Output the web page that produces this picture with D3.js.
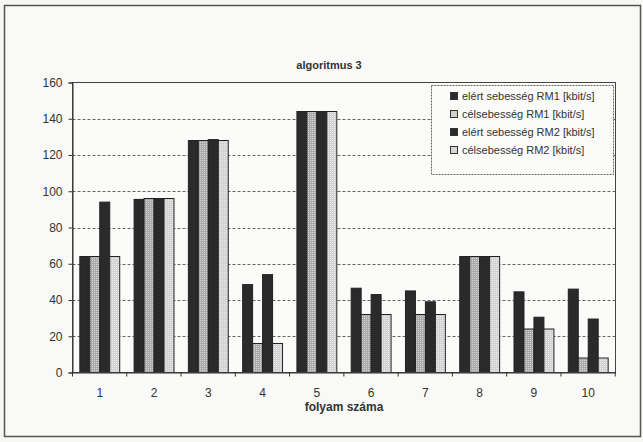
<!DOCTYPE html>
<html><head><meta charset="utf-8">
<script src="https://cdn.jsdelivr.net/npm/d3@7/dist/d3.min.js"></script>
<style>
html,body{margin:0;padding:0;background:#f7f7f5;}
svg{display:block;font-family:Arial,"Liberation Sans",sans-serif;}
</style></head><body>
<svg id="c" width="643" height="442"></svg>
<script>
const categories = ["1","2","3","4","5","6","7","8","9","10"];
const seriesNames = ["elért sebesség RM1 [kbit/s]","célsebesség RM1 [kbit/s]","elért sebesség RM2 [kbit/s]","célsebesség RM2 [kbit/s]"];
const elertRM1 = [64, 95.5, 128, 48.5, 144, 46.5, 45, 64, 44.5, 46];
const celRM1   = [64, 96, 128, 16, 144, 32, 32, 64, 24, 8];
const elertRM2 = [94, 96, 128.5, 54, 144, 43, 39, 64, 30.5, 29.5];
const celRM2   = [64, 96, 128, 16, 144, 32, 32, 64, 24, 8];
const yTicks = [0,20,40,60,80,100,120,140,160];
const title = "algoritmus 3";
const xTitle = "folyam száma";

const series = [elertRM1, celRM1, elertRM2, celRM2];
const fills = ["#2a2a2a","url(#pat1)","#2a2a2a","url(#pat2)"];
const legendFills = ["#2a2a2a","#cfcfcf","#2a2a2a","#d8d8d8"];

const svg = d3.select("#c");
const defs = svg.append("defs");
const p1 = defs.append("pattern").attr("id","pat1").attr("width",2).attr("height",2).attr("patternUnits","userSpaceOnUse");
p1.append("rect").attr("width",2).attr("height",2).attr("fill","#a9a9a9");
p1.append("rect").attr("width",1).attr("height",1).attr("fill","#d6d6d6");
const p2 = defs.append("pattern").attr("id","pat2").attr("width",2).attr("height",2).attr("patternUnits","userSpaceOnUse");
p2.append("rect").attr("width",2).attr("height",2).attr("fill","#d2d2d2");
p2.append("rect").attr("width",1).attr("height",1).attr("fill","#ececec");

// outer frame
svg.append("rect").attr("x",4.5).attr("y",5.5).attr("width",636).attr("height",431)
  .attr("fill","#f9f9f7").attr("stroke","#555").attr("stroke-width",1.5);

const L=72.5, R=615.5, T=82.5, B=372.5;
const x = d3.scaleBand().domain(categories).range([L,R]).paddingInner(0.265).paddingOuter(0.135);
const xs = d3.scaleBand().domain(d3.range(4)).range([0,x.bandwidth()]);
const y = d3.scaleLinear().domain([0,160]).range([B,T]);

// plot area
svg.append("rect").attr("x",L).attr("y",T).attr("width",R-L).attr("height",B-T).attr("fill","#fbfbf9");

// gridlines
svg.append("g").selectAll("line").data(yTicks.filter(d=>d>0&&d<160)).join("line")
  .attr("x1",L).attr("x2",R).attr("y1",d=>Math.round(y(d))+0.5).attr("y2",d=>Math.round(y(d))+0.5)
  .attr("stroke","#666").attr("stroke-width",1).attr("stroke-dasharray","3,2");

// bars
const g = svg.append("g");
series.forEach((s,i)=>{
  g.selectAll(null).data(categories).join("rect")
    .attr("x",(c)=>x(c)+xs(i))
    .attr("y",(c,j)=>y(s[j]))
    .attr("width",xs.bandwidth())
    .attr("height",(c,j)=>y(0)-y(s[j]))
    .attr("fill",fills[i]).attr("stroke","#222").attr("stroke-width",1);
});

// plot border
svg.append("rect").attr("x",L).attr("y",T).attr("width",R-L).attr("height",B-T)
  .attr("fill","none").attr("stroke","#444").attr("stroke-width",1);

// y axis
const yAxis = svg.append("g").attr("transform",`translate(${L},0)`)
  .call(d3.axisLeft(y).tickValues(yTicks).tickSize(4).tickPadding(6));
yAxis.select(".domain").attr("stroke","#333");
yAxis.selectAll(".tick line").attr("stroke","#333");
yAxis.selectAll("text").attr("font-size",12).attr("fill","#333").attr("font-family","Arial,'Liberation Sans',sans-serif");

// x axis
const xAxis = svg.append("g").attr("transform",`translate(0,${B})`)
  .call(d3.axisBottom(x).tickSize(0).tickPadding(16));
xAxis.select(".domain").attr("stroke","#333");
xAxis.selectAll("text").attr("font-size",12).attr("fill","#333").attr("font-family","Arial,'Liberation Sans',sans-serif");
// category separators ticks
svg.append("g").selectAll("line").data(d3.range(categories.length+1)).join("line")
  .attr("x1",i=>L+i*x.step()).attr("x2",i=>L+i*x.step())
  .attr("y1",B).attr("y2",B+4).attr("stroke","#333");

// titles
svg.append("text").attr("x",329).attr("y",69).attr("text-anchor","middle")
  .attr("font-size",11).attr("font-weight","bold").attr("fill","#333").text(title);
svg.append("text").attr("x",(L+R)/2).attr("y",411).attr("text-anchor","middle")
  .attr("font-size",12).attr("font-weight","bold").attr("fill","#333").text(xTitle);

// legend
const lg = svg.append("g");
lg.append("rect").attr("x",431.5).attr("y",85.5).attr("width",182).attr("height",89)
  .attr("fill","#fbfbf9").attr("stroke","#666").attr("stroke-dasharray","2,1");
seriesNames.forEach((n,i)=>{
  const cy = 96 + i*18;
  lg.append("rect").attr("x",450.5).attr("y",cy-3.5).attr("width",7).attr("height",7)
    .attr("fill",legendFills[i]).attr("stroke","#333");
  lg.append("text").attr("x",462).attr("y",cy+4).attr("font-size",11).attr("fill","#333").text(n);
});
</script>
</body></html>
